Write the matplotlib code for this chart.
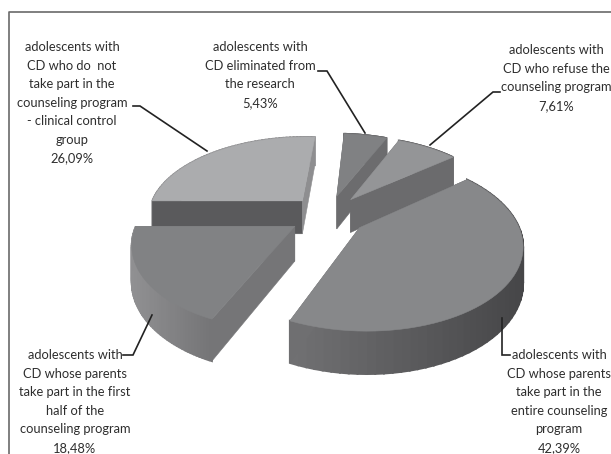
import numpy as np
import matplotlib
matplotlib.use("Agg")
import matplotlib.pyplot as plt
from matplotlib.patches import Polygon
from matplotlib.colors import to_rgb

# Data (clockwise from the start angle)
labels = [
    "adolescents with\nCD eliminated from\nthe research\n5,43%",
    "adolescents with\nCD who refuse the\ncounseling program\n7,61%",
    "adolescents with\nCD whose parents\ntake part in the\nentire counseling\nprogram\n42,39%",
    "adolescents with\nCD whose parents\ntake part in the first\nhalf of the\ncounseling program\n18,48%",
    "adolescents with\nCD who do  not\ntake part in the\ncounseling program\n- clinical control\ngroup\n26,09%",
]
values = [5.43, 7.61, 42.39, 18.48, 26.09]

# Styles: top colour, start-side wall, end-side wall, outer wall (near-left, near-right)
top_cols = ["#808183", "#949597", "#87888a", "#818284", "#abacae"]
start_cols = ["#6c6c6e", "#6b6b6d", "#5a5a5c", "#757577", "#5a5a5c"]
end_cols = ["#6c6c6e", "#6b6b6d", "#6f6f71", "#757577", "#8e8e90"]
wall_left = ["#6c6c6e", "#6b6b6d", "#717173", "#909092", "#8e8e90"]
wall_right = ["#6c6c6e", "#6b6b6d", "#464648", "#747476", "#8e8e90"]
label_xy = [(260, 47), (556, 50), (559, 355), (75, 355), (72, 47)]
leaders = [
    [(318, 71), (327, 71), (365, 133)],
    [(500, 92), (493, 92), (430, 145)],
    [(510, 355), (502, 355), (502, 318)],
    [(123, 355), (133, 355), (152, 315)],
    [(133, 106), (140, 106), (207, 151)],
]
draw_order = [4, 0, 1, 3, 2]

START = 3.9
EXPLODE = 0.25
CX, CY, A, B, K, DEPTH = 328, 215, 155, 80, 0.18, 34


def project(u, v, drop=0.0):
    p = 1 + K * v
    return CX + A * u / p, CY - B * v / p + drop / p


fig = plt.figure(figsize=(6.11, 4.54), dpi=100)
ax = fig.add_axes([0, 0, 1, 1])
ax.set_xlim(0, 611)
ax.set_ylim(454, 0)
ax.axis("off")
plt.rcParams["font.family"] = ["Lato", "DejaVu Sans"]

# frame
ax.plot([8.5, 8.5, 611], [454, 11.5, 11.5], color="#6a6a6a", lw=1.2, zorder=1, solid_capstyle="butt")

edges = START + np.concatenate([[0], np.cumsum(values)]) * 360 / np.sum(values)


def poly(xs, ys, col, z, lw=0.4):
    ax.add_patch(Polygon(np.column_stack([xs, ys]), closed=True, facecolor=col,
                         edgecolor=col, lw=lw, zorder=z))


z = 2
for i in draw_order:
    t0, t1 = np.radians(edges[i]), np.radians(edges[i + 1])
    mid = (t0 + t1) / 2
    ou, ov = EXPLODE * np.sin(mid), EXPLODE * np.cos(mid)
    t = np.linspace(t0, t1, 60)
    u, v = ou + np.sin(t), ov + np.cos(t)

    # outer curved wall with a left-to-right shade
    xt, yt = project(u, v)
    xb, yb = project(u, v, DEPTH)
    cl, cr = np.array(to_rgb(wall_left[i])), np.array(to_rgb(wall_right[i]))
    xmin, xmax = xt.min(), xt.max()
    for j in range(len(t) - 1):
        f = ((xt[j] + xt[j + 1]) / 2 - xmin) / max(xmax - xmin, 1)
        poly([xt[j], xt[j + 1], xb[j + 1], xb[j]], [yt[j], yt[j + 1], yb[j + 1], yb[j]],
             tuple(cl + (cr - cl) * f), z, lw=1.4)
    z += 1

    # side walls (a hidden one is painted over by the top face)
    for tt, c in [(t0, start_cols[i]), (t1, end_cols[i])]:
        eu, ev = ou + np.sin(tt), ov + np.cos(tt)
        x0, y0 = project(ou, ov)
        x1, y1 = project(eu, ev)
        x2, y2 = project(eu, ev, DEPTH)
        x3, y3 = project(ou, ov, DEPTH)
        poly([x0, x1, x2, x3], [y0, y1, y2, y3], c, z)
        z += 1

    # top face
    ax_, ay_ = project(ou, ov)
    poly(np.r_[ax_, xt], np.r_[ay_, yt], top_cols[i], z)
    z += 1

for pts in leaders:
    xs, ys = zip(*pts)
    ax.plot(xs, ys, color="#222222", lw=1.2, zorder=z, solid_joinstyle="miter")

for lab, (x, y) in zip(labels, label_xy):
    for k, line in enumerate(lab.split("\n")):
        ax.text(x, y + k * 18.6, line, ha="center", va="center", fontsize=9.3,
                color="#2e2e2e", zorder=z + 1)

fig.savefig("out.png", dpi=100)
